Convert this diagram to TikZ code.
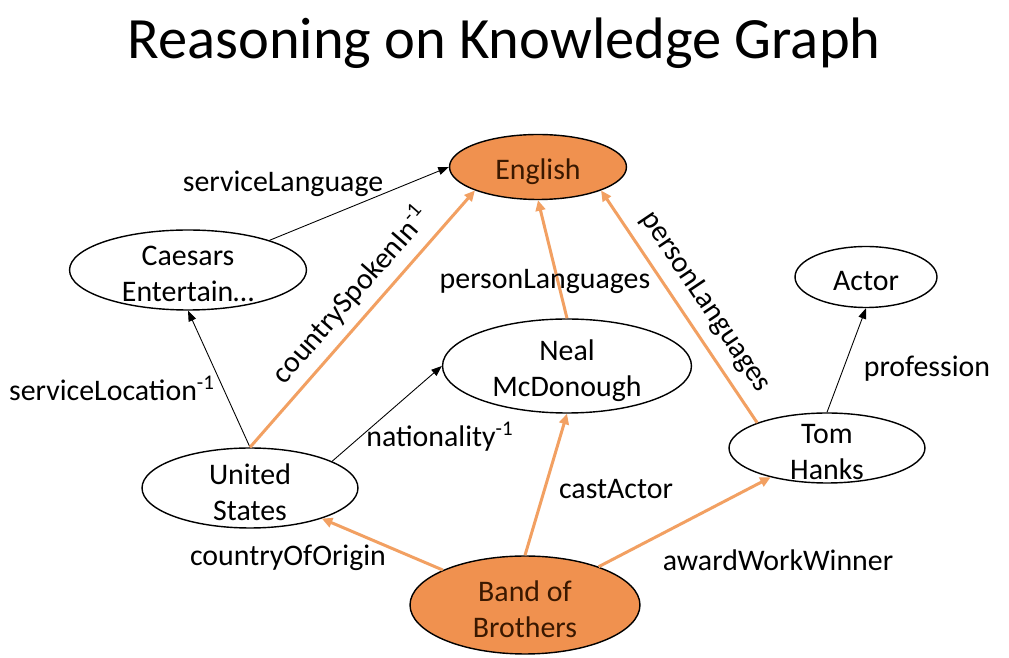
\documentclass[tikz,border=0pt]{standalone}
\usepackage{fontspec}
\setmainfont{Carlito}
\usepackage{xcolor}
\usepackage{tikz}
\usetikzlibrary{shapes.geometric, arrows.meta, positioning}
\definecolor{hotfill}{HTML}{F0914F}
\definecolor{hotedge}{HTML}{F2A062}
\definecolor{hottext}{HTML}{3A1800}
\tikzset{
    heading/.style={font=\fontsize{33.3}{40}\selectfont, inner sep=0pt},
    entity/.style={ellipse, draw=black, line width=0.8pt, fill=white, inner sep=0pt},
    hot/.style={entity, fill=hotfill},
    tag/.style={font=\fontsize{17}{20.5}\selectfont, align=center, inner sep=0pt, yshift=-2.5pt},
    hottag/.style={tag, text=hottext},
    lbl/.style={font=\fontsize{17}{20.5}\selectfont, inner sep=2pt},
    rel/.style={-{Triangle[length=6pt, width=4.5pt]}, line width=0.5pt, draw=black},
    hop/.style={-{Triangle[length=6pt, width=5.5pt]}, line width=1.7pt, draw=hotedge, color=hotedge}
}
\begin{document}
\begin{tikzpicture}[x=0.02cm, y=-0.02cm]
    \fill [white] (0,0) rectangle (1009,658);
    \useasboundingbox (0,0) rectangle (1009,658);
    \node [heading] (head) at (504,43) {Reasoning on Knowledge Graph};

    \node [hot, minimum width=3.54cm, minimum height=1.30cm, label={[hottag]center:English}] (eng) at (538,167) {};
    \node [entity, minimum width=4.74cm, minimum height=1.60cm, label={[tag]center:Caesars\\Entertain…}] (caesars) at (188,270) {};
    \node [entity, minimum width=2.84cm, minimum height=1.22cm, label={[tag]center:Actor}] (actor) at (866,277) {};
    \node [entity, minimum width=4.98cm, minimum height=1.88cm, label={[tag]center:Neal\\McDonough}] (neal) at (567,366) {};
    \node [entity, minimum width=3.92cm, minimum height=1.40cm, label={[tag]center:Tom\\Hanks}] (tom) at (827,448) {};
    \node [entity, minimum width=4.32cm, minimum height=1.60cm, label={[tag]center:United\\States}] (us) at (250,488) {};
    \node [hot, minimum width=4.60cm, minimum height=1.96cm, label={[hottag]center:Band of\\Brothers}] (band) at (525,605) {};

    \draw [rel] (caesars.20) -- (eng.west);
    \draw [rel] (us.north) -- (caesars.south);
    \draw [rel] (us.18) -- (neal.west);
    \draw [rel] (tom.north) -- (actor.south);
    \draw [hop] (us.north) -- (eng.south west) node [lbl, sloped, above=3pt, pos=0.53, text=black] (lspoken) {countrySpokenIn\textsuperscript{-1}};
    \draw [hop] (neal.north) -- (eng.south);
    \draw [hop] (tom.north west) -- (eng.south east) node [lbl, sloped, above=4pt, pos=0.46, text=black] (ltomlang) {personLanguages};
    \draw [hop] (band) -- (us);
    \draw [hop] (band.north) -- (neal.south);
    \draw [hop] (band) -- (tom);

    \node [lbl] (lservlang) at (283,184) {serviceLanguage};
    \node [lbl] (lservloc) at (112,388) {serviceLocation\textsuperscript{-1}};
    \node [lbl] (lnation) at (440,437) {nationality\textsuperscript{-1}};
    \node [lbl] (lneallang) at (545,281) {personLanguages};
    \node [lbl] (lprof) at (927,369) {profession};
    \node [lbl] (lcast) at (616,489) {castActor};
    \node [lbl] (lorigin) at (288,558) {countryOfOrigin};
    \node [lbl] (laward) at (778,560) {awardWorkWinner};
\end{tikzpicture}
\end{document}
